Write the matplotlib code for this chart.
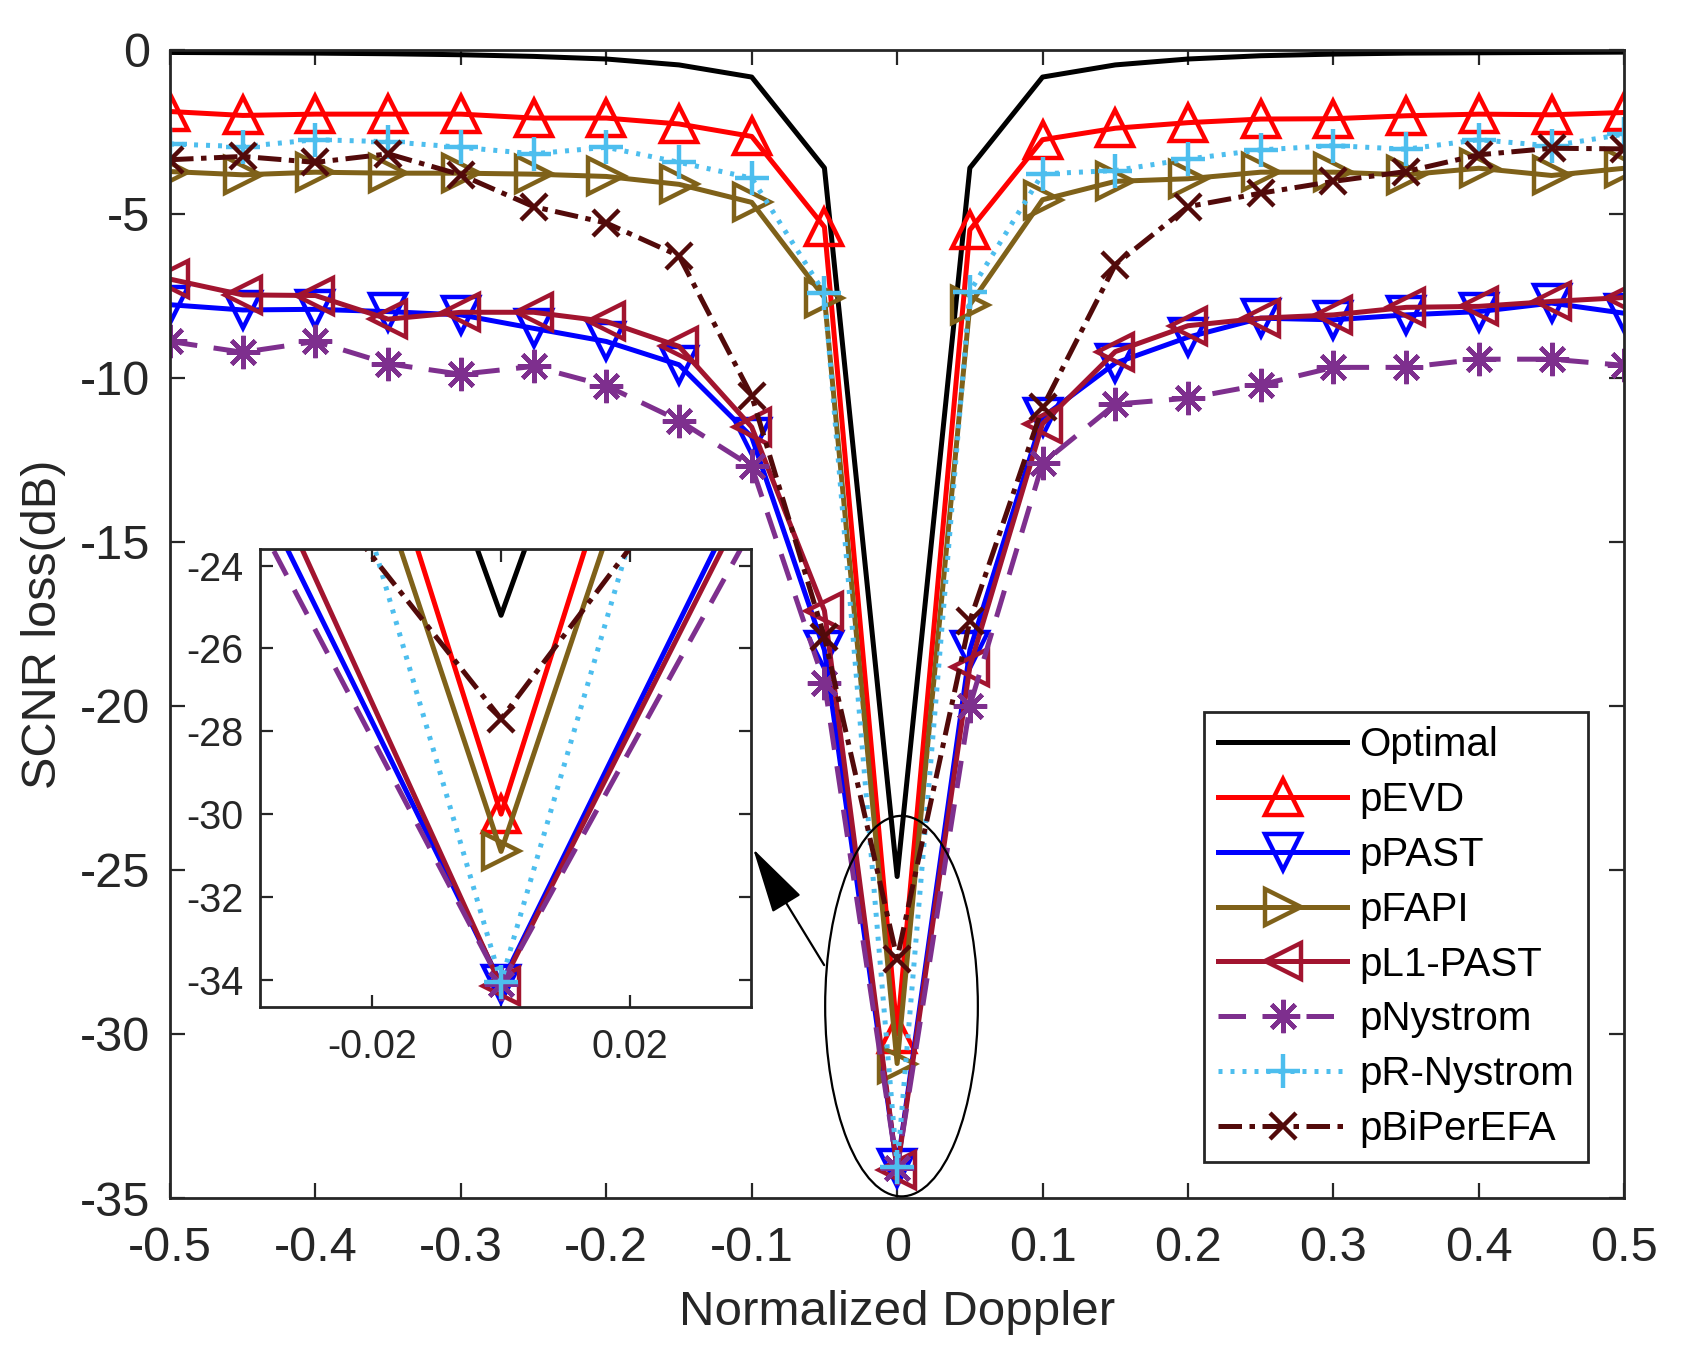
import matplotlib
matplotlib.use('Agg')
import matplotlib.pyplot as plt
from matplotlib.patches import Ellipse

plt.rcParams['font.family'] = ['Liberation Sans', 'DejaVu Sans']
plt.rcParams['axes.unicode_minus'] = False

# normalized Doppler grid
doppler = [-0.5, -0.45, -0.4, -0.35, -0.3, -0.25, -0.2, -0.15, -0.1, -0.05, 0.0,
           0.05, 0.1, 0.15, 0.2, 0.25, 0.3, 0.35, 0.4, 0.45, 0.5]

# SCNR loss (dB) per method
optimal = [-0.08, -0.09, -0.10, -0.12, -0.15, -0.20, -0.28, -0.46, -0.83, -3.6, -25.2,
           -3.6, -0.83, -0.46, -0.28, -0.18, -0.13, -0.10, -0.09, -0.08, -0.07]
p_evd = [-1.88, -2.0, -1.96, -1.96, -1.96, -2.08, -2.08, -2.26, -2.64, -5.4, -30.0,
         -5.49, -2.74, -2.39, -2.22, -2.11, -2.1, -2.01, -1.96, -1.98, -1.91]
p_past = [-7.77, -7.93, -7.91, -7.98, -8.08, -8.49, -8.89, -9.6, -11.8, -18.3, -34.1,
          -18.3, -11.2, -9.55, -8.76, -8.18, -8.23, -8.08, -7.98, -7.72, -8.03]
p_fapi = [-3.71, -3.81, -3.73, -3.76, -3.76, -3.79, -3.86, -4.1, -4.65, -7.55, -30.9,
          -7.77, -4.57, -4.01, -3.93, -3.73, -3.73, -3.81, -3.61, -3.83, -3.61]
p_l1past = [-6.99, -7.47, -7.49, -8.21, -8.0, -8.0, -8.28, -9.04, -11.5, -17.1, -34.15,
            -18.8, -11.4, -9.2, -8.41, -8.18, -8.08, -7.85, -7.82, -7.67, -7.55]
p_nystrom = [-8.89, -9.22, -8.89, -9.57, -9.89, -9.65, -10.24, -11.3, -12.7, -19.3, -34.1,
             -20.0, -12.6, -10.8, -10.62, -10.21, -9.68, -9.68, -9.43, -9.43, -9.62]
p_rnystrom = [-2.87, -2.95, -2.74, -2.8, -2.97, -3.17, -2.97, -3.43, -3.91, -7.42, -34.05,
              -7.37, -3.78, -3.68, -3.33, -3.05, -2.92, -3.03, -2.74, -2.93, -2.57]
p_biperefa = [-3.35, -3.25, -3.43, -3.17, -3.81, -4.78, -5.28, -6.28, -10.55, -17.9, -27.7,
              -17.4, -10.9, -6.55, -4.78, -4.37, -4.01, -3.71, -3.2, -3.0, -3.02]

labels = ['Optimal', 'pEVD', 'pPAST', 'pFAPI', 'pL1-PAST', 'pNystrom', 'pR-Nystrom', 'pBiPerEFA']
series = [optimal, p_evd, p_past, p_fapi, p_l1past, p_nystrom, p_rnystrom, p_biperefa]
colors = ['#000000', '#FF0000', '#0000FF', '#7F6119', '#A2142F', '#7E2F8E', '#4DBEEE', '#520A0A']
markers = [None, '^', 'v', '>', '<', (8, 2, 0), '+', 'x']
msizes = [0, 26, 26, 26, 26, 24, 24, 19]
styles = ['-', '-', '-', '-', '-', (0, (5.5, 3.3)), (0, (0.8, 1.6)), (0, (4.7, 1.5, 1.1, 1.5))]

LW = 3.6
EC = '#262626'


def draw(ax):
    for y, lab, c, m, ms, ls in zip(series, labels, colors, markers, msizes, styles):
        ax.plot(doppler, y, color=c, lw=LW, ls=ls, marker=m, ms=ms, mew=3.2,
                mfc='none', mec=c, label=lab)


fig = plt.figure(figsize=(16.87, 13.54), dpi=100)
ax = fig.add_axes([0.1008, 0.1152, 0.862, 0.848])
draw(ax)
ax.set_xlim(-0.5, 0.5)
ax.set_ylim(-35, 0)
ax.set_xticks([-0.5, -0.4, -0.3, -0.2, -0.1, 0, 0.1, 0.2, 0.3, 0.4, 0.5])
ax.set_xticklabels(['-0.5', '-0.4', '-0.3', '-0.2', '-0.1', '0', '0.1', '0.2', '0.3', '0.4', '0.5'])
ax.set_yticks([-35, -30, -25, -20, -15, -10, -5, 0])
ax.tick_params(direction='in', top=True, right=True, length=11, width=1.6,
               labelsize=35, colors=EC, labelcolor='#262626')
ax.tick_params(axis='x', pad=20)
ax.tick_params(axis='y', pad=14)
for s in ax.spines.values():
    s.set_linewidth(2)
    s.set_color(EC)
ax.set_xlabel('Normalized Doppler', fontsize=35.5, color='#262626', labelpad=14)
ax.set_ylabel('SCNR loss(dB)', fontsize=35, color='#262626', labelpad=10)

ax.add_patch(Ellipse((0.003, -29.15), 0.105, 11.6, fill=False, lw=1.6, ec='k', zorder=10))
ax.annotate('', xy=(-0.099, -24.36), xytext=(-0.0502, -27.9),
            arrowprops=dict(arrowstyle='-|>,head_length=1.5,head_width=0.38', lw=1.6,
                            color='k', mutation_scale=28, shrinkA=0, shrinkB=0))

leg = ax.legend(loc='lower right', bbox_to_anchor=(0.975, 0.031), borderaxespad=0,
                fontsize=29, handlelength=3.2, handletextpad=0.3, numpoints=1,
                labelspacing=0.42, borderpad=0.35, fancybox=False, framealpha=1,
                edgecolor=EC)
leg.get_frame().set_linewidth(2)

# zoomed inset around zero Doppler
axin = fig.add_axes([0.154, 0.2565, 0.291, 0.338])
draw(axin)
axin.set_xlim(-0.0375, 0.0388)
axin.set_ylim(-34.65, -23.6)
axin.set_xticks([-0.02, 0, 0.02])
axin.set_xticklabels(['-0.02', '0', '0.02'])
axin.set_yticks([-34, -32, -30, -28, -26, -24])
axin.tick_params(direction='in', top=True, right=True, length=9, width=1.6,
                 labelsize=28.5, colors=EC, labelcolor='#262626')
axin.tick_params(axis='x', pad=15)
axin.tick_params(axis='y', pad=12)
for s in axin.spines.values():
    s.set_linewidth(2)
    s.set_color(EC)

fig.savefig('out.png', dpi=100)
